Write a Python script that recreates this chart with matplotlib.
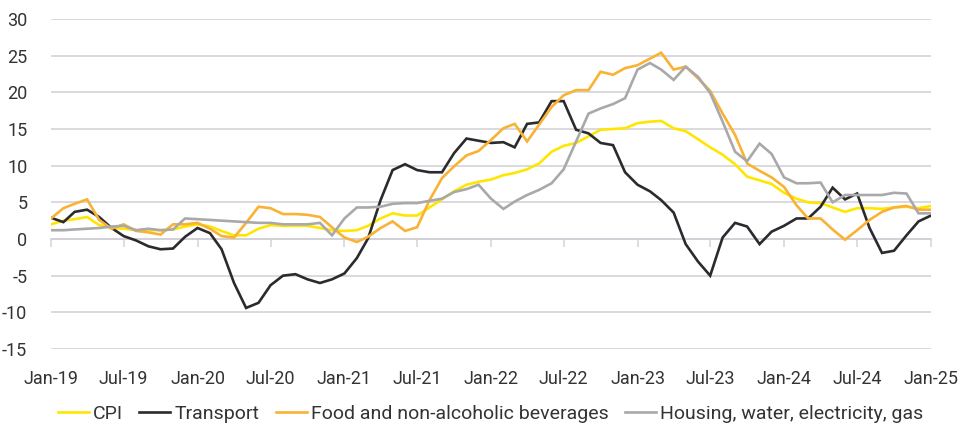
import matplotlib
matplotlib.use("Agg")
import matplotlib.pyplot as plt
import matplotlib.dates as mdates
import pandas as pd

# monthly y/y % change, Jan-19 .. Jan-25
months = pd.date_range("2019-01-01", "2025-01-01", freq="MS")

cpi = [2.0, 2.5, 2.7, 3.0, 1.9, 1.5, 1.4, 1.2, 1.2, 1.2, 1.3, 1.7,
       2.0, 1.7, 1.1, 0.5, 0.5, 1.4, 1.9, 1.8, 1.8, 1.8, 1.5, 1.2,
       1.1, 1.2, 1.8, 2.8, 3.5, 3.2, 3.2, 4.3, 5.4, 6.5, 7.4, 7.8,
       8.1, 8.7, 9.0, 9.5, 10.3, 11.9, 12.7, 13.1, 14.0, 14.9, 15.0, 15.1,
       15.8, 16.0, 16.1, 15.1, 14.7, 13.6, 12.5, 11.5, 10.2, 8.5, 8.0, 7.5,
       6.3, 5.5, 5.0, 4.9, 4.3, 3.7, 4.2, 4.2, 4.1, 4.3, 4.4, 4.2, 4.5]

transport = [2.9, 2.3, 3.7, 4.0, 3.0, 1.5, 0.4, -0.2, -1.0, -1.4, -1.3, 0.3,
             1.5, 0.8, -1.4, -6.0, -9.4, -8.7, -6.3, -5.0, -4.8, -5.5, -6.0, -5.5,
             -4.7, -2.6, 0.1, 5.3, 9.4, 10.2, 9.4, 9.1, 9.1, 11.7, 13.7, 13.4,
             13.1, 13.2, 12.5, 15.7, 15.9, 18.8, 18.8, 14.9, 14.4, 13.1, 12.8, 9.1,
             7.4, 6.5, 5.3, 3.6, -0.7, -3.1, -5.0, 0.2, 2.2, 1.7, -0.7, 1.0,
             1.8, 2.8, 2.8, 4.4, 7.0, 5.4, 6.2, 1.5, -1.9, -1.6, 0.5, 2.4, 3.2]

food = [2.8, 4.2, 4.8, 5.4, 2.6, 1.4, 2.0, 1.1, 0.9, 0.6, 2.0, 2.0,
        2.2, 1.4, 0.4, 0.2, 2.2, 4.4, 4.2, 3.4, 3.4, 3.3, 3.0, 1.6,
        0.2, -0.4, 0.3, 1.5, 2.4, 1.1, 1.6, 5.3, 8.3, 9.9, 11.4, 12.0,
        13.5, 15.1, 15.7, 13.3, 15.6, 18.0, 19.6, 20.3, 20.3, 22.8, 22.4, 23.3,
        23.7, 24.6, 25.4, 23.1, 23.5, 21.9, 20.2, 17.1, 14.2, 10.3, 9.3, 8.4,
        7.1, 4.6, 2.8, 2.8, 1.3, -0.1, 1.2, 2.6, 3.7, 4.3, 4.5, 4.0, 4.0]

housing = [1.2, 1.2, 1.3, 1.4, 1.5, 1.7, 1.8, 1.2, 1.4, 1.2, 1.3, 2.8,
           2.7, 2.6, 2.5, 2.4, 2.3, 2.2, 2.2, 2.0, 2.0, 2.0, 2.2, 0.5,
           2.8, 4.3, 4.3, 4.4, 4.8, 4.9, 4.9, 5.2, 5.5, 6.4, 6.8, 7.4,
           5.5, 4.1, 5.1, 6.0, 6.7, 7.6, 9.5, 13.3, 17.1, 17.8, 18.4, 19.2,
           23.1, 24.0, 23.1, 21.7, 23.5, 22.1, 19.9, 16.0, 11.9, 10.6, 13.0, 11.6,
           8.4, 7.6, 7.6, 7.7, 5.0, 6.0, 6.0, 6.0, 6.0, 6.3, 6.2, 3.5, 3.5]

series = [
    ("CPI", cpi, "#FFE600"),
    ("Transport", transport, "#2B2B2E"),
    ("Food and non-alcoholic beverages", food, "#F9B233"),
    ("Housing, water, electricity, gas", housing, "#A9A9AB"),
]

plt.rcParams["font.family"] = ["Roboto", "DejaVu Sans"]
plt.rcParams["axes.unicode_minus"] = False
txt_col = "#333333"
grid_col = "#CFCFD6"

fig = plt.figure(figsize=(9.58, 4.28), dpi=100)
ax = fig.add_axes([0.0532, 0.1846, 0.9186, 0.771])

for name, vals, col in series:
    ax.plot(months, vals, color=col, lw=1.9, label=name, solid_joinstyle="miter")

ax.set_ylim(-15, 30)
ax.set_yticks(range(-15, 31, 5))
ax.set_xlim(months[0], months[-1])
ax.xaxis.set_major_locator(mdates.MonthLocator(bymonth=[1, 7]))
ax.xaxis.set_major_formatter(mdates.DateFormatter("%b-%y"))

ax.grid(axis="y", color=grid_col, lw=1.1)
ax.set_axisbelow(True)
for s in ax.spines.values():
    s.set_visible(False)
ax.tick_params(axis="y", length=0, pad=17, labelsize=13, labelcolor=txt_col)
ax.tick_params(axis="x", length=0, pad=15, labelsize=13, labelcolor=txt_col)

# zero line with the small month ticks
sec = ax.secondary_xaxis(1 / 3)
sec.xaxis.set_major_locator(mdates.MonthLocator(bymonth=[1, 7]))
sec.spines["bottom"].set_color("#D5D5DB")
sec.spines["bottom"].set_linewidth(1.3)
sec.tick_params(axis="x", direction="out", length=6, color="#D5D5DB", width=1.2, labelbottom=False)
sec.set_zorder(0)

fig.legend(loc="center", bbox_to_anchor=(0.512, 0.033), ncol=4, frameon=False,
           fontsize=14, handlelength=1.6, handletextpad=0.2, columnspacing=0.85,
           labelcolor=txt_col)

fig.savefig("out.png", dpi=100)
